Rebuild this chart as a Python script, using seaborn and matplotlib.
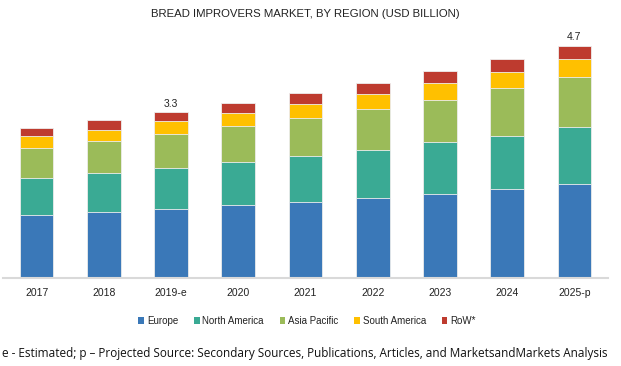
import numpy as np
import pandas as pd
import matplotlib
matplotlib.use("Agg")
import matplotlib.pyplot as plt
from matplotlib.patches import Patch
import seaborn as sns

years = ['2017', '2018', '2019-e', '2020', '2021', '2022', '2023', '2024', '2025-p']
regions = ['Europe', 'North America', 'Asia Pacific', 'South America', 'RoW*']
europe = [1.26, 1.32, 1.39, 1.46, 1.52, 1.60, 1.68, 1.78, 1.88]
north_america = [0.75, 0.79, 0.82, 0.86, 0.92, 0.97, 1.04, 1.07, 1.15]
asia_pacific = [0.60, 0.63, 0.68, 0.72, 0.77, 0.81, 0.85, 0.95, 1.00]
south_america = [0.23, 0.23, 0.25, 0.27, 0.28, 0.30, 0.33, 0.33, 0.35]
row = [0.17, 0.19, 0.18, 0.19, 0.21, 0.23, 0.24, 0.26, 0.27]
labels = {'2019-e': '3.3', '2025-p': '4.7'}

colors = ['#3A78B8', '#3AAA94', '#9BBB59', '#FFC000', '#BE3B2F']

df = pd.DataFrame({'Year': years, 'Europe': europe, 'North America': north_america,
                   'Asia Pacific': asia_pacific, 'South America': south_america,
                   'RoW*': row})
cum = df[regions].cumsum(axis=1)
cum['Year'] = df['Year']

sns.set_theme(style="white")
plt.rcParams['font.family'] = ['Liberation Sans', 'DejaVu Sans']

fig = plt.figure(figsize=(6.21, 3.66), dpi=100)
ax = fig.add_axes([3/621, (366-278.3)/366, 605/621, 250/366])

# draw stacks from the top layer down so each lower layer covers the one above
for reg, col in zip(regions[::-1], colors[::-1]):
    sns.barplot(data=cum, x='Year', y=reg, color=col, width=0.5, ax=ax,
                edgecolor='#EEEEEE', linewidth=0.6, saturation=1)

totals = df[regions].sum(axis=1)
for i, (yr, tot) in enumerate(zip(years, totals)):
    if yr in labels:
        ax.text(i, tot + 0.17, labels[yr], ha='center', va='center',
                fontsize=7.5, color='#222222')

ax.set_xlim(-0.5, 8.5)
ax.set_ylim(0, 5.0)
ax.set_xlabel('')
ax.set_ylabel('')
ax.set_yticks([])
for s in ['top', 'right', 'left']:
    ax.spines[s].set_visible(False)
ax.spines['bottom'].set_color('#D9D9D9')
ax.spines['bottom'].set_linewidth(1.5)
ax.tick_params(axis='x', length=0, pad=7, labelsize=7.5, labelcolor='#222222')

fig.text(305/621, 1 - 14/366, 'BREAD IMPROVERS MARKET, BY REGION (USD BILLION)',
         ha='center', va='center', fontsize=8.2, color='#222222')

handles = [Patch(facecolor=c, edgecolor='none') for c in colors]
fig.legend(handles, regions, loc='center', bbox_to_anchor=(307/621, 1 - 321/366),
           ncol=5, frameon=False, fontsize=7, handlelength=0.6, handleheight=0.6,
           handletextpad=0.3, columnspacing=1.6, labelcolor='#222222')

fig.text(2/621, 1 - 353/366,
         'e - Estimated; p \u2013 Projected Source: Secondary Sources, Publications, Articles, and MarketsandMarkets Analysis',
         ha='left', va='center', fontsize=8.45, color='#111111',
         family=['Open Sans', 'DejaVu Sans'])

fig.savefig('out.png', dpi=100)
